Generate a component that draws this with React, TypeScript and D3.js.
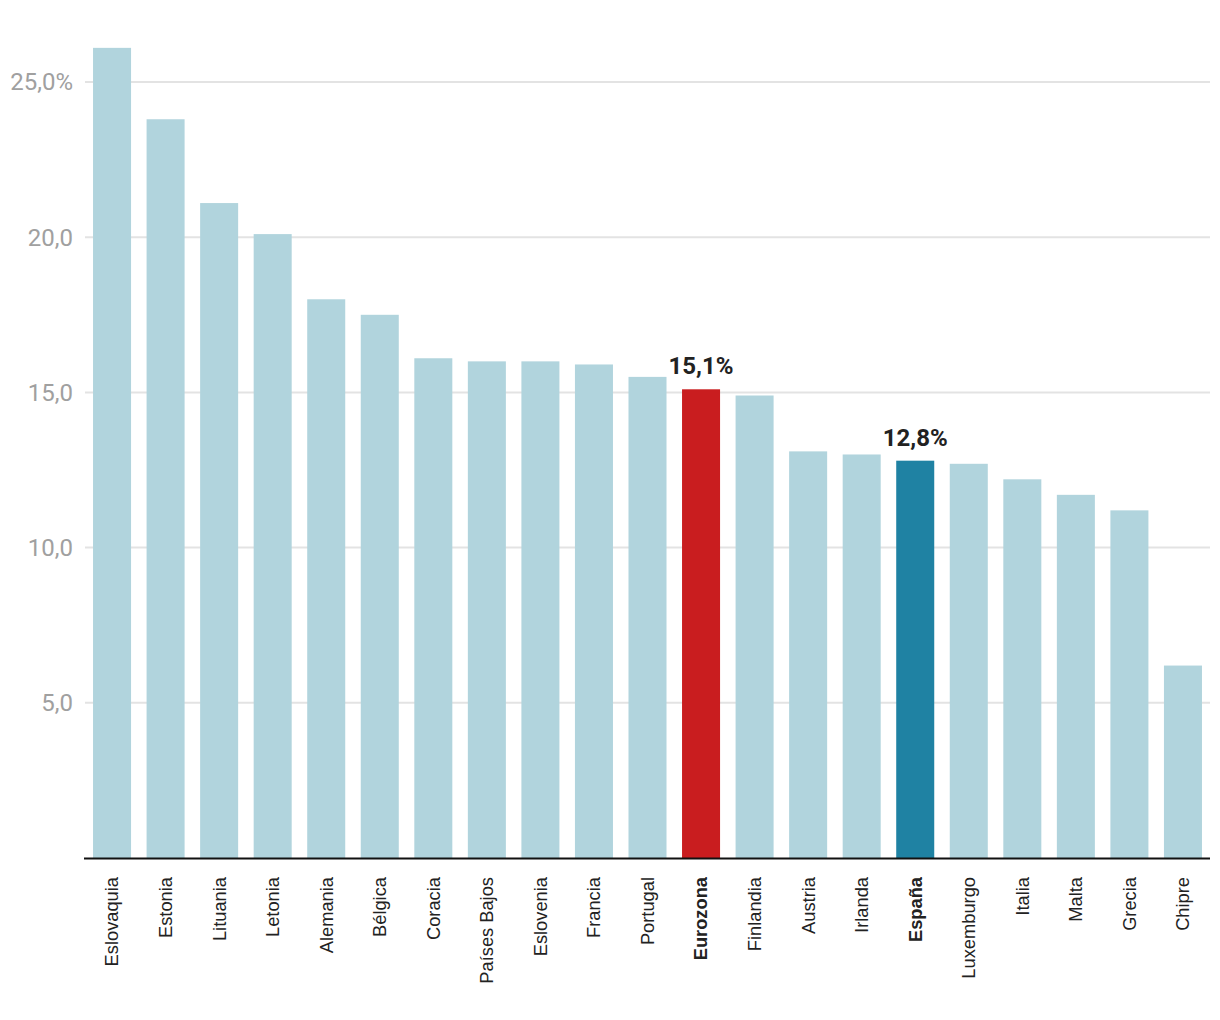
import React from "react";
import * as d3 from "d3";

const countries = ["Eslovaquia","Estonia","Lituania","Letonia","Alemania","Bélgica","Coracia","Países Bajos","Eslovenia","Francia","Portugal","Eurozona","Finlandia","Austria","Irlanda","España","Luxemburgo","Italia","Malta","Grecia","Chipre"];
const values = [26.1,23.8,21.1,20.1,18.0,17.5,16.1,16.0,16.0,15.9,15.5,15.1,14.9,13.1,13.0,12.8,12.7,12.2,11.7,11.2,6.2];
const highlighted = ["Eurozona","España"];
const yTicks = [5,10,15,20,25];

const W = 1220, H = 1020;
const left = 85, right = 1210, bottom = 858;

export default function App() {
  const x = d3.scaleBand<string>().domain(countries).range([left, right]).paddingInner(0.29).paddingOuter(0.15);
  const y = d3.scaleLinear().domain([0, 25]).range([bottom, 82]);
  const color = (c: string) => c === "Eurozona" ? "#c91d1f" : c === "España" ? "#1f82a3" : "#b1d4dd";
  const fmt = (v: number) => v.toFixed(1).replace(".", ",");
  return (
    <svg width={W} height={H} style={{ position: "absolute", left: 0, top: 0, fontFamily: "Roboto, sans-serif" }}>
      {yTicks.map(t => (
        <g key={t}>
          <line x1={left} x2={right} y1={y(t)} y2={y(t)} stroke="#e3e3e3" strokeWidth={2} />
          <text x={73} y={y(t)} dy="0.35em" textAnchor="end" fill="#a0a0a0" fontSize={24}>{fmt(t) + (t === 25 ? "%" : "")}</text>
        </g>
      ))}
      {countries.map((c, i) => (
        <rect key={c} x={x(c)} y={y(values[i])} width={x.bandwidth()} height={bottom - y(values[i])} fill={color(c)} />
      ))}
      <line x1={84} x2={right} y1={bottom + 0.5} y2={bottom + 0.5} stroke="#111" strokeWidth={2} />
      {countries.map((c, i) => highlighted.includes(c) ? (
        <text key={"v" + c} x={x(c)! + x.bandwidth() / 2} y={y(values[i]) - 15} textAnchor="middle" fontSize={24} fontWeight="bold" fill="#222">{fmt(values[i]) + "%"}</text>
      ) : null)}
      {countries.map(c => (
        <text key={"l" + c} transform={`translate(${x(c)! + x.bandwidth() / 2},877) rotate(-90)`} dy="0.35em" textAnchor="end" fontSize={18.3} fill="#222" fontFamily="'Liberation Sans', Arial, sans-serif" fontWeight={highlighted.includes(c) ? "bold" : "normal"}>{c}</text>
      ))}
    </svg>
  );
}
